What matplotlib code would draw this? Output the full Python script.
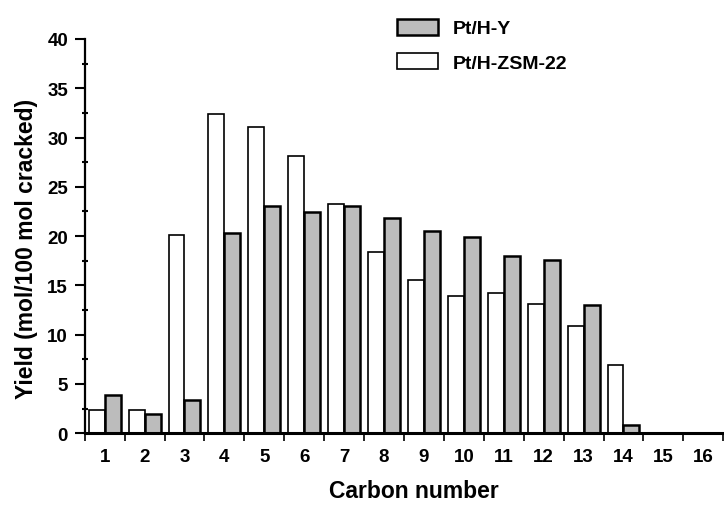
import matplotlib
matplotlib.use("Agg")
import matplotlib.pyplot as plt
import numpy as np
from matplotlib.patches import Patch
from matplotlib.ticker import MultipleLocator

# carbon numbers and yields
carbon = np.arange(1, 17)
zsm22 = [2.3, 2.3, 20.1, 32.4, 31.1, 28.1, 23.3, 18.4, 15.5, 13.9, 14.2, 13.1, 10.9, 6.9, 0, 0]
hy = [3.9, 1.9, 3.4, 20.3, 23.0, 22.4, 23.0, 21.8, 20.5, 19.9, 18.0, 17.6, 13.0, 0.85, 0, 0]

plt.rcParams['font.family'] = ['Liberation Sans', 'DejaVu Sans']

grey = '#bcbcbc'

fig = plt.figure(figsize=(7.24, 5.06), dpi=100)
ax = fig.add_axes([0.117, 0.142, 0.882, 0.779])

w = 0.4
ax.bar(carbon - 0.2, zsm22, width=w, color='white', edgecolor='black', linewidth=1.2)
ax.bar(carbon + 0.2, hy, width=w, color=grey, edgecolor='black', linewidth=1.8)

ax.set_xlim(0.5, 16.5)
ax.set_ylim(0, 40)
ax.set_xticks(carbon)
ax.set_xticklabels([str(c) for c in carbon], fontsize=13.5, fontweight='bold')
ax.xaxis.set_minor_locator(MultipleLocator(1, offset=0.5))
ax.tick_params(axis='x', which='major', length=0, pad=11)
ax.tick_params(axis='x', which='minor', length=6, width=1.2, direction='out')

ax.yaxis.set_major_locator(MultipleLocator(5))
ax.yaxis.set_minor_locator(MultipleLocator(2.5))
ax.tick_params(axis='y', which='major', length=7, width=1.5, direction='out', labelsize=13.5, pad=5)
ax.tick_params(axis='y', which='minor', length=4, width=1.5, direction='inout')
for lab in ax.get_yticklabels():
    lab.set_fontweight('bold')

for s in ['top', 'right']:
    ax.spines[s].set_visible(False)
ax.spines['left'].set_linewidth(1.6)
ax.spines['bottom'].set_linewidth(2.2)

xl = ax.set_xlabel('Carbon number', fontsize=16.5, fontweight='bold')
xl.set_va('baseline')
ax.xaxis.set_label_coords(0.515, -0.163)
ax.set_ylabel('Yield (mol/100 mol cracked)', fontsize=16.5, fontweight='bold')
ax.yaxis.set_label_coords(-0.073, 0.47)

handles = [Patch(facecolor=grey, edgecolor='black', linewidth=1.8, label='Pt/H-Y'),
           Patch(facecolor='white', edgecolor='black', linewidth=1.2, label='Pt/H-ZSM-22')]
leg = fig.legend(handles=handles, loc='upper left', bbox_to_anchor=(397 / 724, 1 - 20 / 506),
                 frameon=False, fontsize=14, handlelength=2.1, handleheight=0.85,
                 handletextpad=0.78, labelspacing=0.8, borderpad=0, borderaxespad=0)
for t in leg.get_texts():
    t.set_fontweight('bold')

fig.savefig('out.png', dpi=100)
